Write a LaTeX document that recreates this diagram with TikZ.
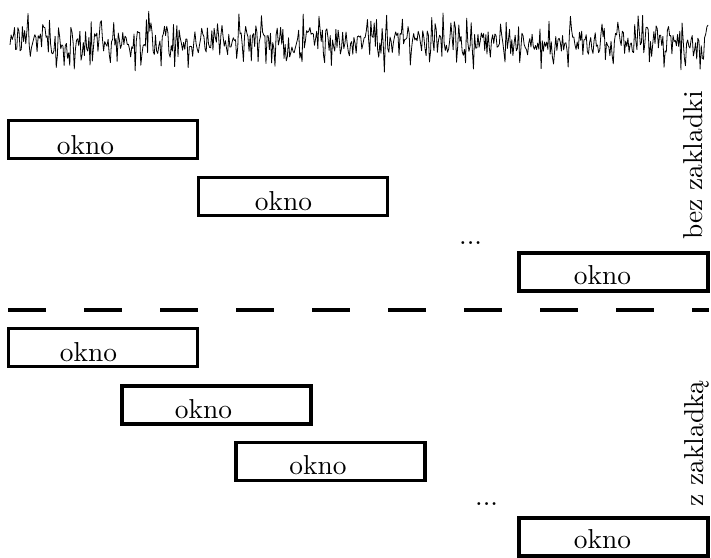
\documentclass[tikz,border=0pt]{standalone}
\usepackage{fontspec}
\setmainfont{lmroman10-regular}[Extension=.otf]
\begin{document}
\begin{tikzpicture}[x=1pt,y=-1pt,
  okbox/.style={draw,line width=3.2pt,rectangle,inner sep=0pt,minimum width=189pt,minimum height=38pt},
  oktext/.style={inner sep=0pt,anchor=base,font=\fontsize{27.4}{33}\selectfont},
  sidetext/.style={inner sep=0pt,anchor=base west,rotate=90,font=\fontsize{27.4}{33}\selectfont},
  dotstext/.style={inner sep=0pt,anchor=base west,font=\fontsize{27.4}{33}\selectfont}]
\useasboundingbox (0,0) rectangle (711,557);
% signal
\pgfmathsetseed{4711}
\draw[line width=0.8pt,line join=round] plot[domain=10:708,samples=620] (\x,{42+11.5*(rand+rand+rand)});
% upper part
\node[okbox] (b1) at (103,139.5) {};
\node[okbox] (b2) at (293,196.5) {};
\node[okbox] (b3) at (613.5,272) {};
\node[oktext] (t1) at (85.5,154) {okno};
\node[oktext] (t2) at (283.5,210) {okno};
\node[oktext] (t3) at (602.5,284) {okno};
\node[dotstext] (d1) at (459,244) {...};
\node[sidetext] (s1) at (702,240) {bez zakladki};
% separator
\coordinate (dl) at (8,310);
\coordinate (dr) at (709,310);
\draw[line width=4pt,dash pattern=on 38pt off 38pt] (dl) -- (dr);
% lower part
\node[okbox] (bA) at (103,347.5) {};
\node[okbox] (bB) at (216.5,405) {};
\node[okbox] (bC) at (330.5,461.5) {};
\node[okbox] (bD) at (613.5,537) {};
\node[oktext] (tA) at (88.5,361) {okno};
\node[oktext] (tB) at (203.5,418) {okno};
\node[oktext] (tC) at (318,474) {okno};
\node[oktext] (tD) at (602.5,548) {okno};
\node[dotstext] (d2) at (475,505) {...};
\node[sidetext] (s2) at (703,507) {z zakladką};
\end{tikzpicture}
\end{document}
